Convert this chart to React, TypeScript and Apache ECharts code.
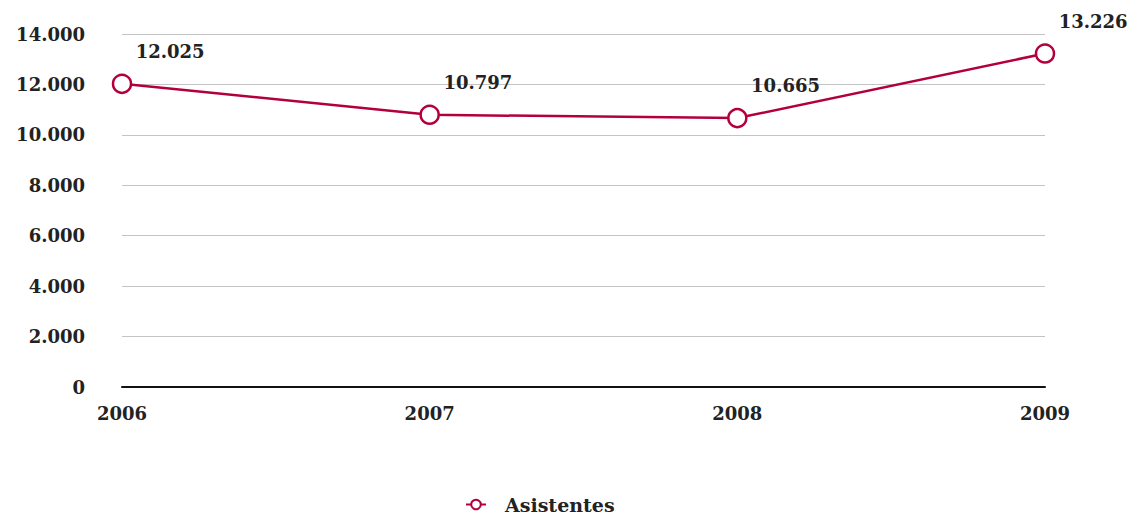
import React, { useEffect, useRef } from "react";
import * as echarts from "echarts";

const categories = ["2006", "2007", "2008", "2009"];
const asistentes = [12025, 10797, 10665, 13226];
const seriesName = "Asistentes";

const fmt = (v: number) => String(v).replace(/\B(?=(\d{3})+(?!\d))/g, ".");

const FONT = "DejaVu Serif";
const COLOR = "#b4003a";

export default function App() {
  const ref = useRef<HTMLDivElement>(null);
  useEffect(() => {
    if (!ref.current) return;
    const chart = echarts.init(ref.current, null, { renderer: "svg" });
    chart.setOption({
      animation: false,
      backgroundColor: "#ffffff",
      textStyle: { fontFamily: FONT, fontWeight: "bold", color: "#222" },
      grid: { left: 122, right: 94, top: 34, bottom: 130, containLabel: false },
      legend: {
        top: 490,
        left: 460,
        itemWidth: 20,
        itemHeight: 12,
        textStyle: {
          fontFamily: FONT,
          fontWeight: "bold",
          fontSize: 19,
          color: "#222",
          padding: [0, 0, 0, 14],
        },
        data: [seriesName],
      },
      xAxis: {
        type: "category",
        data: categories,
        boundaryGap: false,
        axisLine: { lineStyle: { color: "#111", width: 2 } },
        axisTick: { show: false },
        axisLabel: { fontFamily: FONT, fontWeight: "bold", fontSize: 18, color: "#222", margin: 17 },
      },
      yAxis: {
        type: "value",
        min: 0,
        max: 14000,
        interval: 2000,
        axisLine: { show: false },
        axisTick: { show: false },
        splitLine: { lineStyle: { color: "#c4c4c4", width: 1 } },
        axisLabel: {
          fontFamily: FONT,
          fontWeight: "bold",
          fontSize: 18,
          color: "#222",
          margin: 37,
          formatter: (v: number) => fmt(v),
        },
      },
      series: [
        {
          name: seriesName,
          type: "line",
          data: asistentes,
          symbol: "circle",
          symbolSize: 18,
          showAllSymbol: true,
          lineStyle: { color: COLOR, width: 2.5 },
          itemStyle: { color: "#ffffff", borderColor: COLOR, borderWidth: 2.5 },
          label: {
            show: true,
            position: [24, -22],
            align: "left",
            verticalAlign: "middle",
            fontFamily: FONT,
            fontWeight: "bold",
            fontSize: 18,
            color: "#222",
            formatter: (p: any) => fmt(p.value),
          },
          emphasis: { disabled: true },
        },
      ],
    });
    return () => chart.dispose();
  }, []);
  return (
    <div
      ref={ref}
      style={{ position: "fixed", left: 0, top: 0, width: 1139, height: 517, background: "#fff" }}
    />
  );
}
